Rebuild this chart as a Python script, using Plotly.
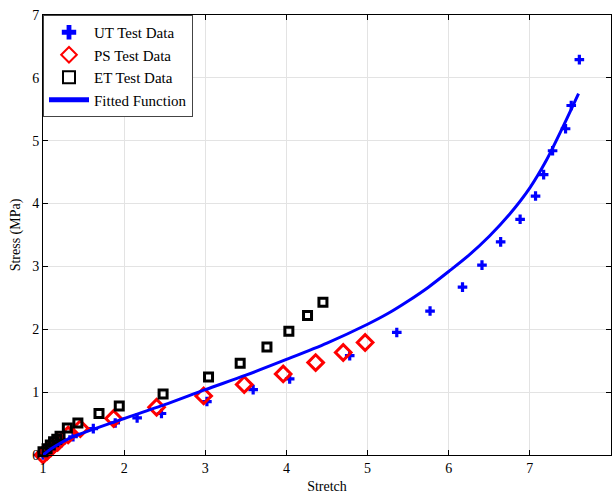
import plotly.graph_objects as go

ut_x = [1.0, 1.03, 1.06, 1.1, 1.15, 1.22, 1.37, 1.62, 1.89, 2.16, 2.46, 3.02, 3.59, 4.04, 4.78, 5.36, 5.77, 6.17, 6.41, 6.64, 6.88, 7.07, 7.17, 7.28, 7.44, 7.51, 7.61]
ut_y = [0.0, 0.03, 0.07, 0.1, 0.14, 0.19, 0.29, 0.42, 0.51, 0.59, 0.66, 0.85, 1.04, 1.21, 1.58, 1.95, 2.29, 2.67, 3.02, 3.39, 3.75, 4.12, 4.46, 4.84, 5.19, 5.56, 6.29]

ps_x = [1.0, 1.05, 1.1, 1.18, 1.31, 1.46, 1.87, 2.40, 2.98, 3.48, 3.96, 4.36, 4.70, 4.97]
ps_y = [0.0, 0.06, 0.12, 0.2, 0.32, 0.42, 0.58, 0.76, 0.94, 1.12, 1.29, 1.47, 1.63, 1.79]

et_x = [1.0, 1.05, 1.09, 1.13, 1.17, 1.21, 1.30, 1.43, 1.69, 1.94, 2.48, 3.04, 3.43, 3.76, 4.03, 4.26, 4.45]
et_y = [0.05, 0.1, 0.16, 0.21, 0.25, 0.3, 0.43, 0.51, 0.66, 0.78, 0.97, 1.24, 1.46, 1.72, 1.97, 2.22, 2.43]

fit_x = [1.0, 1.05, 1.1, 1.2, 1.3, 1.45, 1.6, 1.8, 2.0, 2.5, 3.0, 3.5, 4.0, 4.5, 5.0, 5.25, 5.5, 5.75, 6.0, 6.25, 6.5, 6.75, 7.0, 7.2, 7.4, 7.6]
fit_y = [0.0, 0.05, 0.1, 0.18, 0.25, 0.33, 0.40, 0.49, 0.58, 0.80, 1.04, 1.27, 1.52, 1.78, 2.08, 2.25, 2.45, 2.67, 2.92, 3.18, 3.48, 3.83, 4.25, 4.68, 5.2, 5.75]

x_ticks = [1, 2, 3, 4, 5, 6, 7, 8]
y_ticks = [0, 1, 2, 3, 4, 5, 6, 7]

font = "Liberation Serif, Times New Roman, serif"

fig = go.Figure()
fig.add_trace(go.Scatter(x=ut_x, y=ut_y, mode="markers", name="UT Test Data",
                         marker=dict(symbol="cross", size=8, color="#0000ff", line=dict(width=0)),
                         cliponaxis=False))
fig.add_trace(go.Scatter(x=ps_x, y=ps_y, mode="markers", name="PS Test Data",
                         marker=dict(symbol="diamond-open", size=12, color="#ff0000", line=dict(width=3, color="#ff0000")),
                         cliponaxis=False))
fig.add_trace(go.Scatter(x=et_x, y=et_y, mode="markers", name="ET Test Data",
                         marker=dict(symbol="square-open", size=8, color="#000000", line=dict(width=3, color="#000000")),
                         cliponaxis=False))
fig.add_trace(go.Scatter(x=fit_x, y=fit_y, mode="lines", name="Fitted Function",
                         line=dict(color="#0000ff", width=3, shape="spline", smoothing=0.8),
                         cliponaxis=False))

axis_common = dict(showgrid=True, gridcolor="#e3e3e3", gridwidth=1, zeroline=False,
                   showline=True, linecolor="#000000", linewidth=1, mirror="allticks",
                   ticks="inside", ticklen=5, tickcolor="#000000", automargin=False,
                   tickfont=dict(family=font, size=14, color="#000000"))

fig.update_layout(
    width=614, height=494,
    margin=dict(l=43, r=3, t=15, b=39),
    paper_bgcolor="white", plot_bgcolor="white",
    font=dict(family=font, size=14, color="#000000"),
    xaxis=dict(range=[1, 8], tickvals=x_ticks, ticktext=[str(v) for v in x_ticks],
               title=dict(text="Stretch", font=dict(family=font, size=14), standoff=6),
               **axis_common),
    yaxis=dict(range=[0, 7], tickvals=y_ticks, ticktext=[str(v) for v in y_ticks],
               title=dict(text="Stress (MPa)", font=dict(family=font, size=14), standoff=8),
               **axis_common),
    legend=dict(x=0, y=1, xanchor="left", yanchor="top", bgcolor="white",
                bordercolor="#444444", borderwidth=1,
                font=dict(family=font, size=15, color="#000000"),
                tracegroupgap=0, itemsizing="constant", itemwidth=40),
    showlegend=True,
)

fig.write_html("out.html", config={"displayModeBar": False},
               post_script="document.body.style.margin='0';document.body.style.overflow='hidden';")
